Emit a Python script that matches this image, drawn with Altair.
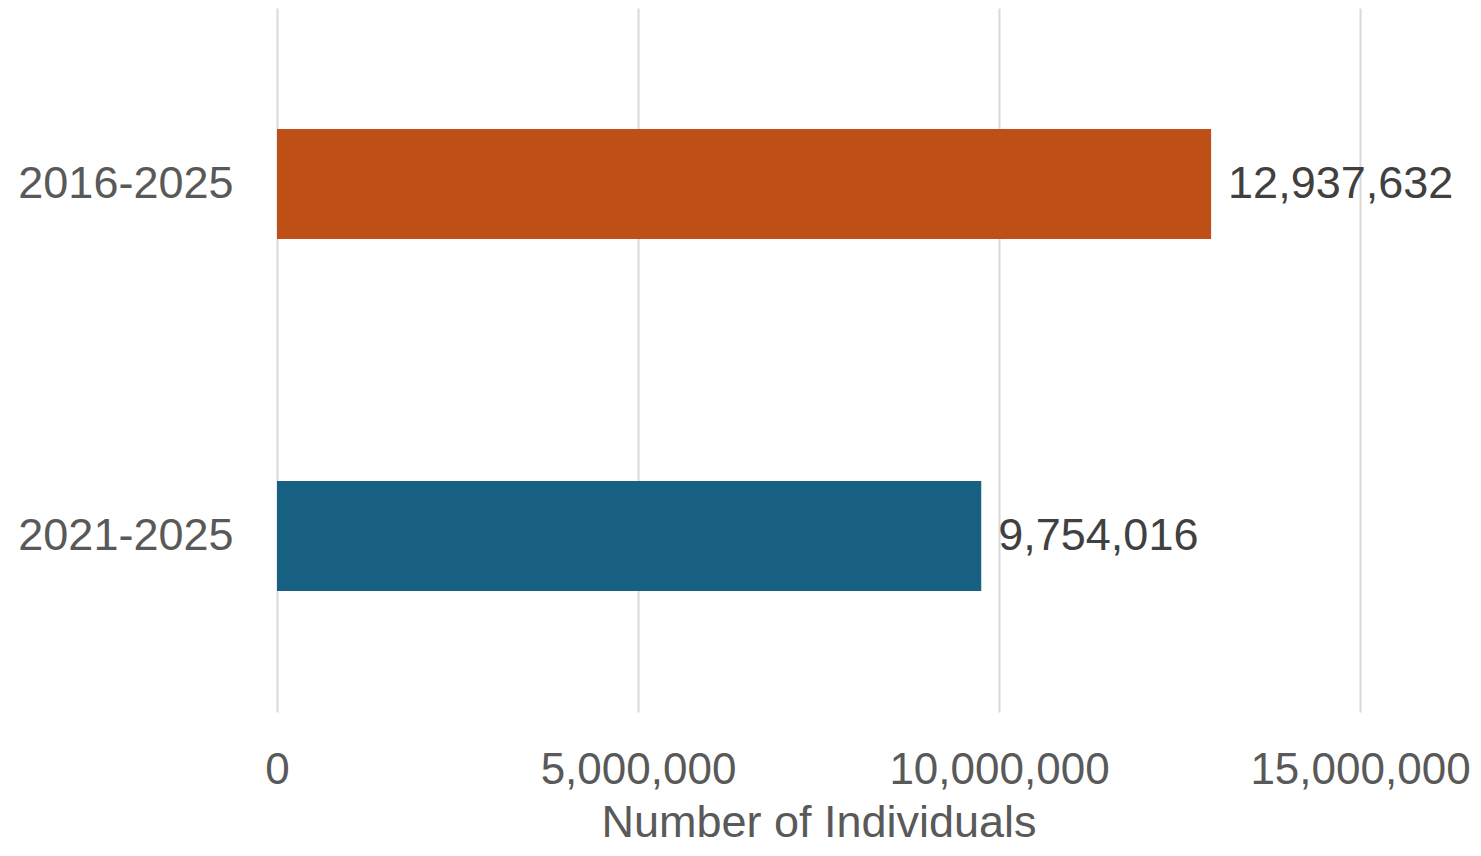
import altair as alt
import pandas as pd

periods = ["2016-2025", "2021-2025"]
individuals = [12937632, 9754016]
colors = ["#BE4F16", "#176082"]
tick_values = [0, 5000000, 10000000, 15000000]

df = pd.DataFrame({"period": periods, "value": individuals, "color": colors})

FONT = "Liberation Sans"
GREY = "#595959"

base = alt.Chart(df).encode(
    y=alt.Y("period:N", sort=periods,
            scale=alt.Scale(paddingInner=0.6875, paddingOuter=0.34375),
            axis=alt.Axis(title=None, ticks=False, domain=False, labelFontSize=45,
                          labelColor=GREY, labelFont=FONT, labelPadding=44, labelLimit=0)),
    x=alt.X("value:Q", scale=alt.Scale(domain=[0, 15000000], nice=False),
            axis=alt.Axis(title="Number of Individuals", values=tick_values,
                          labelExpr="format(datum.value, ',')", labelFlush=False,
                          labelLimit=0, labelOverlap=False,
                          ticks=False, domain=False, labelFontSize=44,
                          labelColor=GREY, labelFont=FONT, labelPadding=36,
                          titleFontSize=45, titleColor=GREY, titleFont=FONT,
                          titleFontWeight="normal", titlePadding=8,
                          gridColor="#D9D9D9", gridWidth=2)),
)

bars = base.mark_bar().encode(color=alt.Color("color:N", scale=None))
labels = base.mark_text(align="left", baseline="middle", dx=17, fontSize=45,
                        color="#404040", font=FONT).encode(text=alt.Text("value:Q", format=","))

chart = (bars + labels).properties(
    width=1083, height=704,
    autosize=alt.AutoSizeParams(type="none"),
    padding={"left": 269, "top": 0, "right": 113, "bottom": 136},
).configure_view(stroke=None)

chart.save("out.html", embed_options={"renderer": "svg", "actions": False})
